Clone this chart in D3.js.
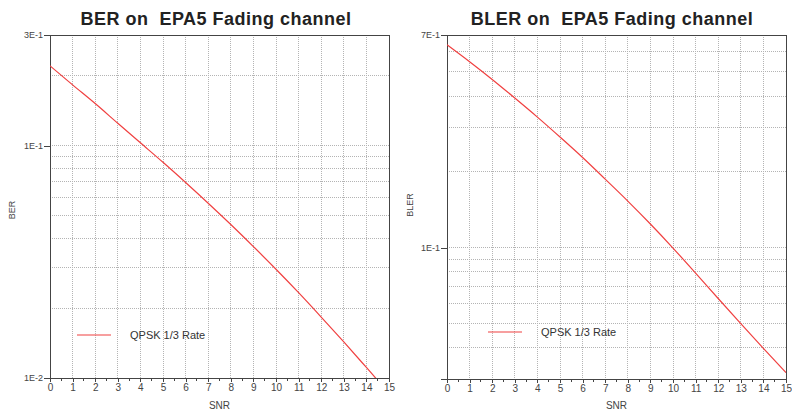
<!DOCTYPE html>
<html>
<head>
<meta charset="utf-8">
<script src="https://cdn.jsdelivr.net/npm/d3@7"></script>
<style>
  html, body { margin: 0; padding: 0; background: #fff; }
  svg { display: block; font-family: "Liberation Sans", Arial, sans-serif; }
  .title { white-space: pre; }
</style>
</head>
<body>
<svg id="chart" width="792" height="416"></svg>
<script>
// SNR sample points (dB)
const snr = [0, 1, 2, 3, 4, 5, 6, 7, 8, 9, 10, 11, 12, 13, 14, 15];

// Bit error rate, QPSK 1/3 rate, EPA5 fading
const berValues = [0.221, 0.183, 0.152, 0.125, 0.103, 0.0849, 0.0695, 0.0566, 0.0458,
                   0.0368, 0.0294, 0.0233, 0.0183, 0.0143, 0.0111, 0.0086];

// Block error rate, QPSK 1/3 rate, EPA5 fading
const blerValues = [0.640, 0.548, 0.466, 0.393, 0.330, 0.275, 0.228, 0.187, 0.153,
                    0.124, 0.0995, 0.0791, 0.0627, 0.0498, 0.0397, 0.0318];

// Axis extents, labelled ticks and grid levels
const berDomain = [0.01, 0.3];
const berLabelTicks = [0.3, 0.1, 0.01];
const berTickLabels = ["3E-1", "1E-1", "1E-2"];
const berGrid = [0.2, 0.1, 0.09, 0.08, 0.07, 0.06, 0.05, 0.04, 0.03, 0.02];

const blerDomain = [0.03, 0.7];
const blerLabelTicks = [0.7, 0.1];
const blerTickLabels = ["7E-1", "1E-1"];
const blerGrid = [0.6, 0.5, 0.4, 0.3, 0.2, 0.1, 0.09, 0.08, 0.07, 0.06, 0.05, 0.04];

const xTicks = d3.range(0, 16);
const xMinorTicks = d3.range(0.5, 15, 1);

const seriesName = "QPSK 1/3 Rate";

const svg = d3.select("#chart");

function panel(opts) {
  const g = svg.append("g");
  const x = d3.scaleLinear().domain([0, 15]).range([opts.left, opts.right]);
  const y = d3.scaleLog().domain(opts.domain).range([opts.bottom, opts.top]);

  // title
  g.append("text")
    .attr("class", "title")
    .attr("x", opts.titleX).attr("y", 25)
    .attr("text-anchor", "middle")
    .attr("font-size", 18).attr("font-weight", "bold")
    .attr("letter-spacing", 0.5)
    .attr("fill", "#222")
    .text(opts.title);

  // grid
  const grid = g.append("g").attr("stroke", "#b4b4b4").attr("stroke-width", 1)
    .attr("stroke-dasharray", "1,1").attr("shape-rendering", "crispEdges");
  grid.selectAll("line.v").data(xTicks.slice(1, -1)).join("line")
    .attr("x1", d => x(d)).attr("x2", d => x(d))
    .attr("y1", opts.top).attr("y2", opts.bottom);
  grid.selectAll("line.h").data(opts.grid).join("line")
    .attr("x1", opts.left).attr("x2", opts.right)
    .attr("y1", d => y(d)).attr("y2", d => y(d));

  // frame (top and right)
  g.append("path")
    .attr("d", `M${opts.left},${opts.top}H${opts.right}V${opts.bottom}`)
    .attr("fill", "none").attr("stroke", "#444").attr("stroke-width", 1)
    .attr("shape-rendering", "crispEdges");

  // y axis
  const yAxis = d3.axisLeft(y).tickValues(opts.labelTicks)
    .tickFormat((d, i) => opts.tickLabels[i]).tickSize(6).tickPadding(1);
  const ya = g.append("g").attr("transform", `translate(${opts.left},0)`).call(yAxis);
  ya.select(".domain").attr("stroke", "#444").attr("shape-rendering", "crispEdges");
  ya.selectAll(".tick line").attr("stroke", "#444").attr("shape-rendering", "crispEdges");
  ya.selectAll("text").attr("font-size", 9).attr("fill", "#444")
    .attr("font-family", "'Liberation Sans', Arial, sans-serif");

  // x axis: major ticks with labels, minor ticks between
  const xAxis = d3.axisBottom(x).tickValues(xTicks).tickFormat(d3.format("d"))
    .tickSize(4).tickPadding(2).tickSizeOuter(0);
  const xa = g.append("g").attr("transform", `translate(0,${opts.bottom})`).call(xAxis);
  xa.select(".domain").attr("stroke", "#444").attr("shape-rendering", "crispEdges");
  xa.selectAll(".tick line").attr("stroke", "#444").attr("shape-rendering", "crispEdges");
  xa.selectAll("text").attr("font-size", 10).attr("fill", "#444")
    .attr("font-family", "'Liberation Sans', Arial, sans-serif");
  xa.selectAll("line.minor").data(xMinorTicks).join("line")
    .attr("class", "minor")
    .attr("x1", d => x(d)).attr("x2", d => x(d))
    .attr("y1", 0).attr("y2", 2.5)
    .attr("stroke", "#444").attr("shape-rendering", "crispEdges");
  // axis line stub to the left of the origin
  xa.append("line").attr("x1", opts.left - 6).attr("x2", opts.left)
    .attr("y1", 0).attr("y2", 0).attr("stroke", "#444").attr("shape-rendering", "crispEdges");

  // axis titles
  g.append("text")
    .attr("x", (opts.left + opts.right) / 2).attr("y", 409)
    .attr("text-anchor", "middle").attr("font-size", 10).attr("fill", "#444")
    .text("SNR");
  g.append("text")
    .attr("transform", `translate(${opts.yTitleX},${opts.yTitleY}) rotate(-90)`)
    .attr("text-anchor", "middle").attr("font-size", 9).attr("fill", "#444")
    .text(opts.yTitle);

  // data line, clipped to the plot area
  const clipId = "clip-" + opts.key;
  g.append("clipPath").attr("id", clipId).append("rect")
    .attr("x", opts.left).attr("y", opts.top)
    .attr("width", opts.right - opts.left).attr("height", opts.bottom - opts.top);
  const line = d3.line().x((d, i) => x(snr[i])).y(d => y(d)).curve(d3.curveMonotoneX);
  g.append("path").datum(opts.values)
    .attr("clip-path", `url(#${clipId})`)
    .attr("d", line).attr("fill", "none")
    .attr("stroke", "#f04040").attr("stroke-width", 1.2);

  // legend
  g.append("line")
    .attr("x1", opts.legendX).attr("x2", opts.legendX + 34)
    .attr("y1", opts.legendY).attr("y2", opts.legendY)
    .attr("stroke", "#f04040").attr("stroke-width", 1.2);
  g.append("text")
    .attr("x", opts.legendX + 53).attr("y", opts.legendY + 4)
    .attr("font-size", 11).attr("fill", "#333")
    .text(seriesName);
}

panel({
  key: "ber",
  title: "BER on  EPA5 Fading channel",
  titleX: 216,
  yTitle: "BER",
  yTitleX: 15, yTitleY: 210,
  left: 50, right: 389, top: 35, bottom: 378,
  domain: berDomain, labelTicks: berLabelTicks, tickLabels: berTickLabels, grid: berGrid,
  values: berValues,
  legendX: 77, legendY: 335
});

panel({
  key: "bler",
  title: "BLER on  EPA5 Fading channel",
  titleX: 612,
  yTitle: "BLER",
  yTitleX: 413, yTitleY: 205,
  left: 447, right: 786, top: 35, bottom: 379,
  domain: blerDomain, labelTicks: blerLabelTicks, tickLabels: blerTickLabels, grid: blerGrid,
  values: blerValues,
  legendX: 488, legendY: 332
});
</script>
</body>
</html>
